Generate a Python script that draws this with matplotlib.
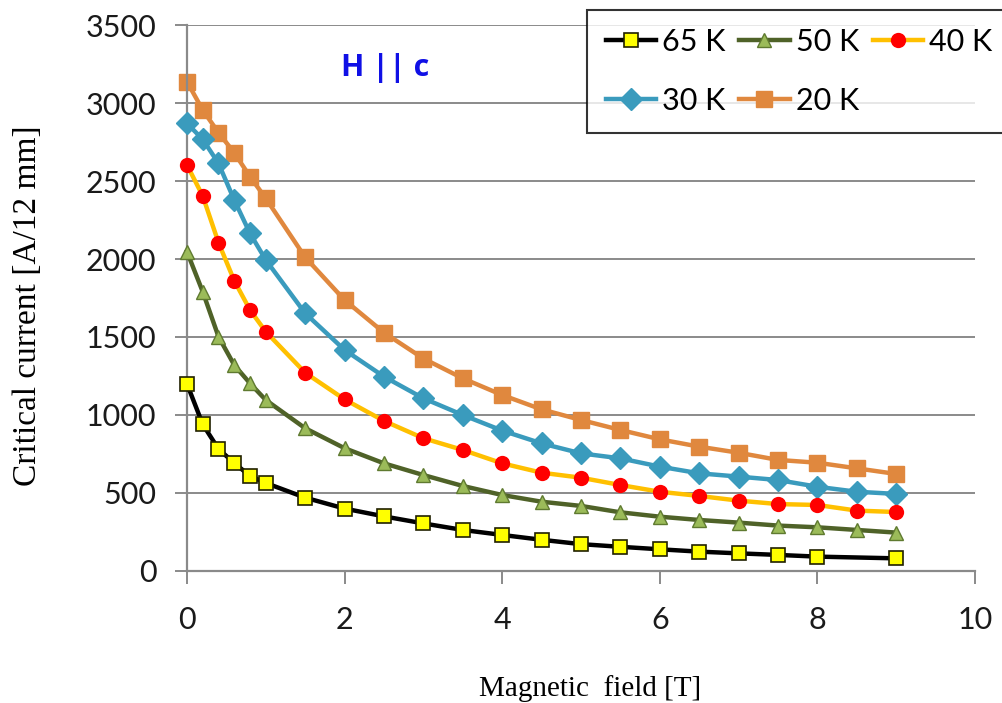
import numpy as np
import matplotlib.pyplot as plt
from matplotlib.lines import Line2D

# magnetic field points [T]
field = [0, 0.2, 0.4, 0.6, 0.8, 1.0, 1.5, 2.0, 2.5, 3.0, 3.5, 4.0, 4.5,
         5.0, 5.5, 6.0, 6.5, 7.0, 7.5, 8.0, 8.5, 9.0]
# the 65 K run has no point at 8.5 T
field_65 = [0, 0.2, 0.4, 0.6, 0.8, 1.0, 1.5, 2.0, 2.5, 3.0, 3.5, 4.0, 4.5,
            5.0, 5.5, 6.0, 6.5, 7.0, 7.5, 8.0, 9.0]

# critical current [A/12 mm]
ic_65 = [1200, 940, 782, 692, 609, 564, 470, 400, 350, 305, 263, 231, 200,
         172, 155, 139, 124, 113, 103, 92, 81]
ic_50 = [2047, 1790, 1502, 1320, 1203, 1096, 915, 787, 690, 615, 545, 487,
         444, 417, 376, 348, 327, 310, 291, 280, 263, 246]
ic_40 = [2603, 2404, 2105, 1861, 1673, 1534, 1271, 1100, 962, 851, 776, 690,
         630, 598, 551, 508, 481, 451, 429, 423, 387, 378]
ic_30 = [2870, 2767, 2613, 2378, 2164, 1994, 1652, 1417, 1246, 1107, 1000,
         900, 818, 754, 722, 669, 626, 605, 583, 540, 508, 494]
ic_20 = [3137, 2955, 2810, 2681, 2528, 2389, 2011, 1737, 1528, 1362, 1235,
         1128, 1036, 968, 904, 844, 797, 758, 712, 694, 658, 622]

labels = ['65 K', '50 K', '40 K', '30 K', '20 K']
yticks = [0, 500, 1000, 1500, 2000, 2500, 3000, 3500]
xticks = [0, 2, 4, 6, 8, 10]

gray = '#8a8a8a'
tick_font = 'Lato'

fig = plt.figure(figsize=(10.02, 7.03), dpi=100)
ax = fig.add_axes([0.1866, 0.1878, 0.7864, 0.7766])

ax.set_xlim(0, 10)
ax.set_ylim(0, 3500)
ax.set_yticks(yticks)
ax.set_xticks(xticks)
ax.yaxis.grid(True, color=gray, linewidth=1.4)
ax.set_axisbelow(True)
for s in ['top', 'right']:
    ax.spines[s].set_visible(False)
for s in ['left', 'bottom']:
    ax.spines[s].set_color(gray)
    ax.spines[s].set_linewidth(1.6)
ax.tick_params(axis='both', color=gray, width=1.4, length=9, labelsize=22,
               direction='out')
ax.tick_params(axis='y', pad=13)
ax.tick_params(axis='x', pad=16)
for t in ax.get_xticklabels() + ax.get_yticklabels():
    t.set_fontfamily(tick_font)
    t.set_color('#1a1a1a')

lw = 3.2
ax.plot(field_65, ic_65, '-s', color='black', lw=lw, ms=10,
        mfc='#ffff00', mec='#202000', mew=1.2, clip_on=False, zorder=6)
ax.plot(field, ic_50, '-^', color='#4f6228', lw=lw, ms=10,
        mfc='#9bbb59', mec='#5f7a30', mew=1.0, clip_on=False, zorder=5)
ax.plot(field, ic_40, '-o', color='#ffc000', lw=lw, ms=11,
        mfc='#ff0000', mec='#ff0000', mew=0, clip_on=False, zorder=4)
ax.plot(field, ic_30, '-D', color='#3a9bbd', lw=lw, ms=11,
        mfc='#3a9bbd', mec='#3a9bbd', clip_on=False, zorder=3)
ax.plot(field, ic_20, '-s', color='#e0883e', lw=lw, ms=11,
        mfc='#e0883e', mec='#e0883e', clip_on=False, zorder=2)

handles = [
    Line2D([], [], color='black', lw=lw, marker='s', ms=10, mfc='#ffff00',
           mec='#202000', mew=1.2),
    Line2D([], [], color='#4f6228', lw=lw, marker='^', ms=10, mfc='#9bbb59',
           mec='#5f7a30'),
    Line2D([], [], color='#ffc000', lw=lw, marker='o', ms=11, mfc='#ff0000',
           mec='#ff0000', mew=0),
    Line2D([], [], color='#3a9bbd', lw=lw, marker='D', ms=11),
    Line2D([], [], color='#e0883e', lw=lw, marker='s', ms=11),
]
# legend fills column-wise, so reorder to get 65/50/40 on the first row
order = [0, 3, 1, 4, 2]
leg = fig.legend([handles[i] for i in order], [labels[i] for i in order],
                 ncol=3, loc='upper left', bbox_to_anchor=(0.586, 0.986),
                 prop={'family': tick_font, 'size': 22}, frameon=True,
                 fancybox=False, edgecolor='black', handlelength=1.65,
                 handletextpad=0.2, columnspacing=0.45, labelspacing=1.0,
                 borderpad=0.6, borderaxespad=0)
leg.get_frame().set_linewidth(1.5)

ax.text(0.251, 0.921, 'H || c', transform=ax.transAxes, color='#1010e6',
        fontsize=22, fontweight='bold', family='Open Sans', ha='center',
        va='center')

fig.text(0.028, 0.565, 'Critical current [A/12 mm]', rotation=90,
         family='Liberation Serif', fontsize=24, ha='center', va='center')
fig.text(0.589, 0.021, 'Magnetic  field [T]', family='Liberation Serif',
         fontsize=21, ha='center', va='center')

fig.savefig('out.png', dpi=100)
